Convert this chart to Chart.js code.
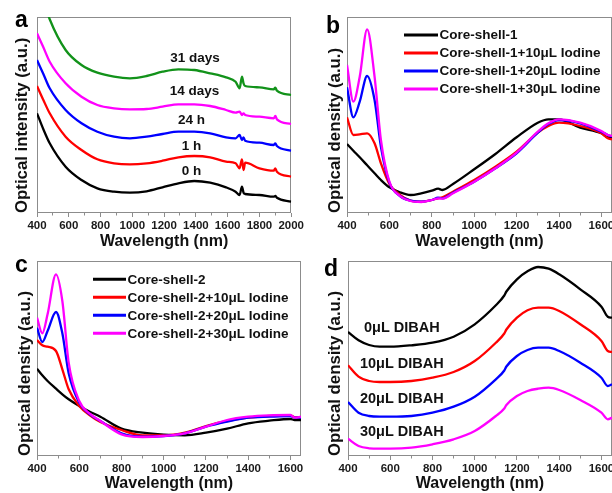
<!DOCTYPE html>
<html><head><meta charset="utf-8">
<script src="https://cdn.jsdelivr.net/npm/chart.js@4/dist/chart.umd.min.js"></script>
<style>
html,body{margin:0;padding:0;background:#fff;overflow:hidden;width:612px;height:493px;position:relative;}
canvas{position:absolute;}
</style></head><body>
<canvas id="ca" width="306" height="251" style="left:0;top:0"></canvas>
<canvas id="cb" width="316" height="251" style="left:306px;top:0"></canvas>
<canvas id="cc" width="306" height="247" style="left:0;top:246px"></canvas>
<canvas id="cd" width="316" height="247" style="left:306px;top:246px"></canvas>
<script>
// ---------- DATA ----------
// Panel a
const waveA = [400,440,480,580,680,780,885,985,1090,1190,1290,1390,1490,1590,1650,1675,1690,1700,1710,1800,1890,1900,1910,2000];
const a0h  = [99.7,83.7,69.7,46.3,33,24.7,21.3,20.3,21.7,25.7,29.7,32,30.3,25.7,21.3,18,26.3,20.3,19,18,16.3,17,15.3,11.3];
const a1h  = [127,113,99.7,76.3,63,53.7,49.7,48.7,49.7,52.3,55.7,57,55.7,51.3,49.7,44.7,53.7,43,50.3,44.7,42.3,44.7,41.3,36.3];
const a24h = [153,139,124.7,103,89.7,81.3,76.3,74.7,76.3,79,81.3,81.3,79.7,75.7,74.7,78,73,75.7,72.3,70.3,68,69.7,67,62.3];
const a14d = [179.7,165.7,151.3,129.7,116.3,108,104.7,103.7,104,106.3,108.7,108.7,107,103,100.3,101.3,98,99.7,98,96.3,94.7,97,93.7,89];
const a31d = [226.3,213,193.7,163,148,140.3,136.3,134.7,137,141.3,143.7,143,139.7,135.7,131.3,124.7,136.3,129.7,127,125.7,123.7,125.3,122.3,118];
const namesA = ['0 h','1 h','24 h','14 days','31 days'];
const ticksA = [400,600,800,1000,1200,1400,1600,1800,2000];
const minorA = [500,700,900,1100,1300,1500,1700,1900];

// Panel b
const waveB = [400,430,460,495,530,560,600,650,700,750,800,830,850,900,1000,1100,1200,1300,1350,1400,1500,1600,1630,1650];
const b0  = [69,62.3,55.7,47.7,39.7,33,25.7,20.7,18,19.7,22.3,24.3,23,29,43.7,59,75.7,90.3,93.7,93.7,85.3,79.7,75.7,75.7];
const b10 = [95.7,78,78.7,79.7,69.7,49.7,29,18,12.3,11.3,13,14.7,15.7,21.3,33,46.3,61.3,80.3,87,90.3,87,79.7,74.7,73.7];
const b20 = [125.7,95.7,111.3,137,113,66.3,30.3,17,12.3,11.3,13,15.3,14.7,20.3,31.3,44.7,59.7,80.3,89,93,89.7,81.3,78,76.3];
const b30 = [148,111.3,136.3,183.7,136.3,73,31.3,17,12,11,13,14.7,14.3,19.7,31.3,44.7,60.3,81.3,89.7,93.7,90.3,82,78,77];
const namesB = ['Core-shell-1','Core-shell-1+10\u03bcL Iodine','Core-shell-1+20\u03bcL Iodine','Core-shell-1+30\u03bcL Iodine'];

// Panel c
const waveC = [400,425,450,490,520,550,600,650,700,800,900,1000,1100,1200,1300,1400,1500,1600,1620,1650];
const c0  = [86.3,79.7,74,66.3,60.7,55.7,49,43.3,38.3,26.3,22.3,20.3,19.7,22.3,26.3,31.7,34.3,36,35,35];
const c10 = [115,109.7,108.3,104,85.7,65.7,49,39.7,33,25,19.7,19.7,22.3,29,34,37.3,39,39.7,37.7,37.7];
const c20 = [127.3,113,124,143,121.7,81.7,52.3,40.7,34,21.7,18.3,19,21.7,28.3,33.3,37.3,38.3,39,37.3,37.3];
const c30 = [137.3,121.7,140.7,180.7,154,92.3,54,41.3,34,20.7,18,19,21.7,28.3,35,38.3,39.7,40,37.3,38.3];
const namesC = ['Core-shell-2','Core-shell-2+10\u03bcL Iodine','Core-shell-2+20\u03bcL Iodine','Core-shell-2+30\u03bcL Iodine'];

// Panel d
const waveD = [400,450,500,550,600,700,800,900,1000,1100,1140,1150,1200,1250,1300,1350,1400,1500,1600,1630,1650];
const d0  = [125,116.7,112,110.3,110.3,111.7,114.3,120.3,132.7,151.7,161.5,165.5,177.7,185.7,190,188.3,182.7,167.7,150.3,140.3,139.3];
const d10 = [91.7,80.3,76,75,75,76,79.3,85,96,114.3,123.5,127.5,139.3,146.7,149.3,149.3,146,132.7,116,106,105];
const d20 = [55,44.3,41,40.3,40.3,41,44.3,50.3,60.3,77.7,86.5,90.5,101,107,109.3,109.3,106,94.3,79.3,71,72.7];
const d30 = [18.3,11,8.7,8.3,8.3,9.3,12.7,17.7,26,41,48.5,52,61,66,68.3,69.3,67,57,44.3,37.7,39.3];
const namesD = ['0\u03bcL DIBAH','10\u03bcL DIBAH','20\u03bcL DIBAH','30\u03bcL DIBAH'];
const ticksBCD = [400,600,800,1000,1200,1400,1600];
const minorBCD = [500,700,900,1100,1300,1500];

// ---------- STYLE ----------
const FAM = "'Liberation Sans', Arial, Helvetica, sans-serif";
const COLORS = {k:'#000000', r:'#ff0000', b:'#0000ff', m:'#ff00ff', g:'#12921a'};
const AXIS = '#8c8c8c';

function series(label, wave, vals, color, order){
  return {label, data: wave.map((w,i)=>({x:w, y:vals[i]})), borderColor: color, backgroundColor: color,
    borderWidth: 2.3, pointRadius: 0, fill: false, cubicInterpolationMode: 'monotone', order};
}
function makeFrame(){
  return {id:'frame', beforeDatasetsDraw(chart){
    const {ctx, chartArea:{left,top,right,bottom}} = chart;
    ctx.save(); ctx.strokeStyle = AXIS; ctx.lineWidth = 1;
    ctx.strokeRect(Math.round(left)+0.5, Math.round(top)+0.5, Math.round(right-left)-1, Math.round(bottom-top)-1);
    ctx.restore();
  }};
}
function makeNotes(items, size, align){
  return {id:'notes', afterDatasetsDraw(chart){
    const ctx = chart.ctx, xs = chart.scales.x, ys = chart.scales.y;
    ctx.save(); ctx.font = 'bold ' + size + 'px ' + FAM; ctx.fillStyle = '#111';
    ctx.textAlign = align; ctx.textBaseline = 'alphabetic';
    items.forEach(it => ctx.fillText(it.text, xs.getPixelForValue(it.x), ys.getPixelForValue(it.y)));
    ctx.restore();
  }};
}
function makeKeys(x0, y0, dy, len){
  return {id:'keys', afterDatasetsDraw(chart){
    const ctx = chart.ctx;
    ctx.save(); ctx.font = 'bold 13.5px ' + FAM; ctx.textBaseline = 'middle'; ctx.textAlign = 'left';
    chart.data.datasets.forEach((d,i)=>{
      const y = y0 + i*dy;
      ctx.strokeStyle = d.borderColor; ctx.lineWidth = 3;
      ctx.beginPath(); ctx.moveTo(x0, y); ctx.lineTo(x0+len, y); ctx.stroke();
      ctx.fillStyle = '#111'; ctx.fillText(d.label, x0+len+1.5, y+0.5);
    });
    ctx.restore();
  }};
}
function makeTag(text, x, y){
  return {id:'tag', afterDraw(chart){
    const ctx = chart.ctx; ctx.save(); ctx.font = 'bold 23px ' + FAM; ctx.fillStyle = '#000';
    ctx.textAlign='left'; ctx.textBaseline='alphabetic'; ctx.fillText(text, x, y); ctx.restore();
  }};
}

function build(id, p){
  const tickFont = {family: FAM, size: 11.5, weight: 'bold'};
  const titleFont = {family: FAM, size: 16, weight: 'bold'};
  const yTitleFont = {family: FAM, size: 16.8, weight: 'bold'};
  return new Chart(document.getElementById(id), {
    type: 'line',
    data: {datasets: p.datasets},
    options: {
      responsive: false, animation: false, devicePixelRatio: 1,
      layout: {padding: p.pad},
      plugins: {legend: {display: false}, tooltip: {enabled: false}},
      scales: {
        xm: {type:'linear', position:'bottom', weight: 0, min: p.xmin, max: p.xmax,
          afterBuildTicks: s => { s.ticks = p.minor.map(v => ({value: v})); },
          ticks: {display: false},
          grid: {drawOnChartArea: false, tickLength: 2.5, color: AXIS, lineWidth: 1},
          border: {display: false},
          afterFit: s => { s.height = 0; }},
        x: {type:'linear', position:'bottom', weight: 1, min: p.xmin, max: p.xmax,
          afterBuildTicks: s => { s.ticks = p.major.map(v => ({value: v})); },
          ticks: {font: tickFont, color: '#1a1a1a', padding: p.tpad, maxRotation: 0, autoSkip: false,
                  callback: v => String(v)},
          grid: {drawOnChartArea: false, tickLength: 4, color: AXIS, lineWidth: 1},
          border: {display: false},
          title: {display: true, text: 'Wavelength (nm)', font: titleFont, color: '#111', padding: {top: 0, bottom: 0}},
          afterFit: s => { s.height = p.xh; }},
        y: {type:'linear', min: p.ymin, max: p.ymax,
          ticks: {display: false}, grid: {display: false}, border: {display: false},
          title: {display: true, text: p.ytitle, font: yTitleFont, color: '#111', align: 'start', padding: {top: p.ytp, bottom: 0}},
          afterFit: s => { s.width = p.yw; }}
      }
    },
    plugins: p.plugins
  });
}

// Panel a
build('ca', {
  datasets: [series(namesA[0], waveA, a0h, COLORS.k, 0), series(namesA[1], waveA, a1h, COLORS.r, 1),
             series(namesA[2], waveA, a24h, COLORS.b, 2), series(namesA[3], waveA, a14d, COLORS.m, 3),
             series(namesA[4], waveA, a31d, COLORS.g, 4)],
  xmin: 400, xmax: 2000, major: ticksA, minor: minorA, ymin: 0, ymax: 196,
  pad: {top: 17, right: 6, left: 0, bottom: 0}, yw: 37, xh: 38, tpad: 2, ytp: 12,
  ytitle: 'Optical intensity (a.u.)',
  plugins: [makeFrame(), makeNotes([
    {text: namesA[0], x: 1373, y: 38}, {text: namesA[1], x: 1373, y: 63}, {text: namesA[2], x: 1373, y: 89},
    {text: namesA[3], x: 1391, y: 118.3}, {text: namesA[4], x: 1394, y: 150.6}], 13.5, 'center'), makeTag('a', 15, 27)]
});
// Panel b
build('cb', {
  datasets: [series(namesB[0], waveB, b0, COLORS.k, 3), series(namesB[1], waveB, b10, COLORS.r, 2),
             series(namesB[2], waveB, b20, COLORS.b, 1), series(namesB[3], waveB, b30, COLORS.m, 0)],
  xmin: 400, xmax: 1650, major: ticksBCD, minor: minorBCD, ymin: 0, ymax: 196,
  pad: {top: 17, right: 10, left: 0, bottom: 0}, yw: 41, xh: 38, tpad: 2, ytp: 19,
  ytitle: 'Optical density (a.u.)',
  plugins: [makeFrame(), makeKeys(98, 35, 18, 34), makeTag('b', 20, 33)]
});
// Panel c
build('cc', {
  datasets: [series(namesC[0], waveC, c0, COLORS.k, 3), series(namesC[1], waveC, c10, COLORS.r, 2),
             series(namesC[2], waveC, c20, COLORS.b, 1), series(namesC[3], waveC, c30, COLORS.m, 0)],
  xmin: 400, xmax: 1650, major: ticksBCD, minor: minorBCD, ymin: -1, ymax: 194,
  pad: {top: 15, right: 5, left: 0, bottom: 0}, yw: 37, xh: 37, tpad: 2, ytp: 15,
  ytitle: 'Optical density (a.u.)',
  plugins: [makeFrame(), makeKeys(93, 33.3, 18, 33), makeTag('c', 15, 26)]
});
// Panel d
build('cd', {
  datasets: [series(namesD[0], waveD, d0, COLORS.k, 0), series(namesD[1], waveD, d10, COLORS.r, 1),
             series(namesD[2], waveD, d20, COLORS.b, 2), series(namesD[3], waveD, d30, COLORS.m, 3)],
  xmin: 400, xmax: 1650, major: ticksBCD, minor: minorBCD, ymin: 1, ymax: 196,
  pad: {top: 15, right: 10, left: 0, bottom: 0}, yw: 42, xh: 37, tpad: 2, ytp: 19,
  ytitle: 'Optical density (a.u.)',
  plugins: [makeFrame(), makeNotes([
    {text: namesD[0], x: 655, y: 125.5}, {text: namesD[1], x: 655, y: 89.3},
    {text: namesD[2], x: 655, y: 54.3}, {text: namesD[3], x: 655, y: 21}], 14.5, 'center'), makeTag('d', 18, 30)]
});
</script>
</body></html>
